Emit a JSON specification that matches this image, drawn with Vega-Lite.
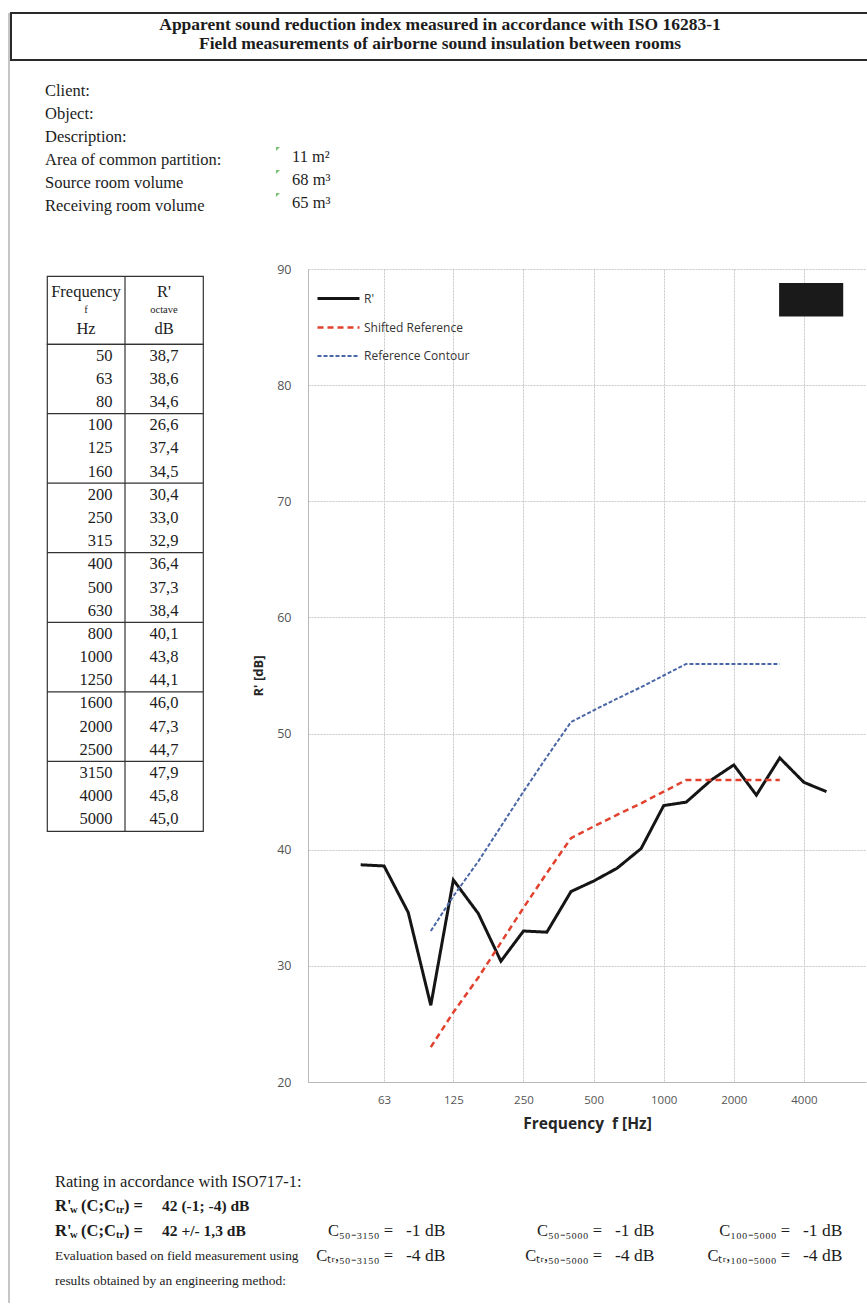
{
  "$schema": "https://vega.github.io/schema/vega-lite/v6.json",
  "padding": {"left": 8, "top": 12, "right": 0, "bottom": 0},
  "background": "#ffffff",
  "config": {
    "view": {"stroke": null},
    "locale": {"number": {"decimal": ",", "thousands": ".", "grouping": [3], "currency": ["", ""]}},
    "text": {"font": "Liberation Serif", "color": "#1c1c1c", "baseline": "middle"}
  },
  "datasets": {
    "header": [
      {"line": 1, "text": "Apparent sound reduction index measured in accordance with ISO 16283-1"},
      {"line": 2, "text": "Field measurements of airborne sound insulation between rooms"}
    ],
    "info": [
      {"label": "Client:", "value": ""},
      {"label": "Object:", "value": ""},
      {"label": "Description:", "value": ""},
      {"label": "Area of common partition:", "value": "11 m²"},
      {"label": "Source room volume", "value": "68 m³"},
      {"label": "Receiving room volume", "value": "65 m³"}
    ],
    "thead": [
      {"col": "f", "line": 1, "text": "Frequency"},
      {"col": "f", "line": 2, "text": "f"},
      {"col": "f", "line": 3, "text": "Hz"},
      {"col": "R", "line": 1, "text": "R'"},
      {"col": "R", "line": 2, "text": "octave"},
      {"col": "R", "line": 3, "text": "dB"}
    ],
    "bands": [
      {"f": 50, "R": 38.7},
      {"f": 63, "R": 38.6},
      {"f": 80, "R": 34.6},
      {"f": 100, "R": 26.6, "shifted": 23, "contour": 33},
      {"f": 125, "R": 37.4, "shifted": 26, "contour": 36},
      {"f": 160, "R": 34.5, "shifted": 29, "contour": 39},
      {"f": 200, "R": 30.4, "shifted": 32, "contour": 42},
      {"f": 250, "R": 33.0, "shifted": 35, "contour": 45},
      {"f": 315, "R": 32.9, "shifted": 38, "contour": 48},
      {"f": 400, "R": 36.4, "shifted": 41, "contour": 51},
      {"f": 500, "R": 37.3, "shifted": 42, "contour": 52},
      {"f": 630, "R": 38.4, "shifted": 43, "contour": 53},
      {"f": 800, "R": 40.1, "shifted": 44, "contour": 54},
      {"f": 1000, "R": 43.8, "shifted": 45, "contour": 55},
      {"f": 1250, "R": 44.1, "shifted": 46, "contour": 56},
      {"f": 1600, "R": 46.0, "shifted": 46, "contour": 56},
      {"f": 2000, "R": 47.3, "shifted": 46, "contour": 56},
      {"f": 2500, "R": 44.7, "shifted": 46, "contour": 56},
      {"f": 3150, "R": 47.9, "shifted": 46, "contour": 56},
      {"f": 4000, "R": 45.8},
      {"f": 5000, "R": 45.0}
    ],
    "redaction": [
      {"f1": 3130, "f2": 5900, "dB1": 85.9, "dB2": 88.8}
    ],
    "ratingText": [
      {"line": 1, "text": "Rating in accordance with ISO717-1:"},
      {"line": 4, "text": "Evaluation based on field measurement using"},
      {"line": 5, "text": "results obtained by an engineering method:"}
    ],
    "rw": [
      {"line": 2, "value": "42 (-1; -4) dB"},
      {"line": 3, "value": "42 +/- 1,3 dB"}
    ],
    "cterms": [
      {"range": "50-3150", "line": 3, "label": "C₅₀₋₃₁₅₀ =", "value": "-1 dB"},
      {"range": "50-3150", "line": 4, "label": "Cₜᵣ,₅₀₋₃₁₅₀ =", "value": "-4 dB"},
      {"range": "50-5000", "line": 3, "label": "C₅₀₋₅₀₀₀ =", "value": "-1 dB"},
      {"range": "50-5000", "line": 4, "label": "Cₜᵣ,₅₀₋₅₀₀₀ =", "value": "-4 dB"},
      {"range": "100-5000", "line": 3, "label": "C₁₀₀₋₅₀₀₀ =", "value": "-1 dB"},
      {"range": "100-5000", "line": 4, "label": "Cₜᵣ,₁₀₀₋₅₀₀₀ =", "value": "-4 dB"}
    ]
  },
  "spacing": 0,
  "hconcat": [
    {
      "width": 1, "height": 1290,
      "data": {"values": [{}]},
      "mark": {"type": "rule", "color": "#8c8c8c", "strokeWidth": 1},
      "encoding": {"x": {"datum": 0, "type": "quantitative", "scale": {"domain": [0, 1]}, "axis": null}}
    },
    {
      "spacing": 0,
      "vconcat": [
        {
          "width": 858, "height": 47,
          "view": {"stroke": "#2a2a2a", "strokeWidth": 2},
          "data": {"name": "header"},
          "mark": {"type": "text", "fontWeight": "bold", "fontSize": 17.5},
          "encoding": {
            "y": {"field": "line", "type": "ordinal", "scale": {"type": "point", "padding": 0.737, "align": 0.4286}, "axis": null},
            "text": {"field": "text"}
          }
        },
        {
          "spacing": 0, "bounds": "flush",
          "hconcat": [
            {"width": 34, "height": 161, "data": {"values": []}, "mark": {"type": "point", "opacity": 0}},
            {
              "width": 247, "height": 161,
              "data": {"name": "info"},
              "mark": {"type": "text", "align": "left", "fontSize": 16.5},
              "encoding": {
                "x": {"datum": 0, "type": "quantitative", "scale": {"domain": [0, 1]}, "axis": null},
                "y": {"field": "label", "type": "nominal", "sort": null, "scale": {"type": "point", "padding": 1, "align": 0.652}, "axis": null},
                "text": {"field": "label"}
              }
            },
            {
              "width": 200, "height": 161,
              "data": {"name": "info"},
              "layer": [
                {
                  "mark": {"type": "text", "align": "left", "fontSize": 16.5, "dy": -3},
                  "encoding": {
                    "x": {"datum": 0, "type": "quantitative", "scale": {"domain": [0, 1]}, "axis": null},
                    "y": {"field": "label", "type": "nominal", "sort": null, "scale": {"type": "point", "padding": 1, "align": 0.652}, "axis": null},
                    "text": {"field": "value"}
                  }
                },
                {
                  "transform": [{"filter": "datum.value != ''"}],
                  "mark": {"type": "point", "shape": "M-1,-1L1,-1L-1,1Z", "filled": true, "size": 16, "color": "#3fa63a", "xOffset": -14, "yOffset": -11},
                  "encoding": {
                    "x": {"datum": 0, "type": "quantitative"},
                    "y": {"field": "label", "type": "nominal", "sort": null}
                  }
                }
              ]
            }
          ]
        },
        {"width": 1, "height": 41, "data": {"values": []}, "mark": {"type": "point", "opacity": 0}},
        {
          "spacing": 0,
          "resolve": {"scale": {"color": "independent", "strokeDash": "independent", "strokeWidth": "independent"}},
          "hconcat": [
            {"width": 34, "height": 1, "data": {"values": []}, "mark": {"type": "point", "opacity": 0}},
            {
              "spacing": 0, "bounds": "flush",
              "vconcat": [
                {"width": 156, "height": 7, "data": {"values": []}, "mark": {"type": "point", "opacity": 0}},
                {
                  "width": 156, "height": 68,
                  "view": {"stroke": "#333333", "strokeWidth": 1.2},
                  "layer": [
                    {
                      "data": {"name": "thead"},
                      "transform": [{"filter": "datum.line != 2"}],
                      "mark": {"type": "text", "fontSize": 16.5},
                      "encoding": {
                        "x": {"field": "col", "type": "nominal", "scale": {"type": "band", "domain": ["f", "R"], "paddingInner": 0, "paddingOuter": 0}, "bandPosition": 0.5, "axis": null},
                        "y": {"field": "line", "type": "ordinal", "scale": {"type": "point", "domain": [1, 2, 3], "padding": 0.838, "align": 0.516}, "axis": null},
                        "text": {"field": "text"}
                      }
                    },
                    {
                      "data": {"name": "thead"},
                      "transform": [{"filter": "datum.line == 2"}],
                      "mark": {"type": "text", "fontSize": 10.5},
                      "encoding": {
                        "x": {"field": "col", "type": "nominal", "bandPosition": 0.5},
                        "y": {"field": "line", "type": "ordinal"},
                        "text": {"field": "text"}
                      }
                    },
                    {
                      "data": {"values": [{}]},
                      "mark": {"type": "rule", "color": "#333333", "strokeWidth": 1.2},
                      "encoding": {"x": {"datum": "R", "type": "nominal", "bandPosition": 0}}
                    }
                  ]
                },
                {
                  "width": 156, "height": 487,
                  "view": {"stroke": "#333333", "strokeWidth": 1.2},
                  "data": {"name": "bands"},
                  "layer": [
                    {
                      "mark": {"type": "text", "fontSize": 16.5, "align": "right"},
                      "encoding": {
                        "x": {"datum": "f", "type": "nominal", "scale": {"type": "band", "domain": ["f", "R"], "paddingInner": 0, "paddingOuter": 0}, "bandPosition": 0.84, "axis": null},
                        "y": {"field": "f", "type": "ordinal", "scale": {"type": "band", "paddingInner": 0, "paddingOuter": 0}, "bandPosition": 0.5, "axis": null},
                        "text": {"field": "f", "type": "quantitative", "format": "d"}
                      }
                    },
                    {
                      "mark": {"type": "text", "fontSize": 16.5},
                      "encoding": {
                        "x": {"datum": "R", "type": "nominal", "bandPosition": 0.5},
                        "y": {"field": "f", "type": "ordinal", "bandPosition": 0.5},
                        "text": {"field": "R", "type": "quantitative", "format": ".1f"}
                      }
                    },
                    {
                      "transform": [{"filter": {"field": "f", "oneOf": [100, 200, 400, 800, 1600, 3150]}}],
                      "mark": {"type": "rule", "color": "#333333", "strokeWidth": 1.2},
                      "encoding": {"y": {"field": "f", "type": "ordinal", "bandPosition": 0}}
                    },
                    {
                      "data": {"values": [{}]},
                      "mark": {"type": "rule", "color": "#333333", "strokeWidth": 1.2},
                      "encoding": {"x": {"datum": "R", "type": "nominal", "bandPosition": 0}}
                    }
                  ]
                }
              ]
            },
            {"width": 47, "height": 1, "data": {"values": []}, "mark": {"type": "point", "opacity": 0}},
            {
              "width": 558, "height": 813,
              "layer": [
                {
                  "data": {"name": "bands"},
                  "transform": [
                    {"fold": ["contour", "shifted", "R"], "as": ["series", "dB"]},
                    {"filter": "isValid(datum.dB)"}
                  ],
                  "mark": {"type": "line", "strokeCap": "butt", "strokeJoin": "miter"},
                  "encoding": {
                    "x": {
                      "field": "f", "type": "quantitative",
                      "scale": {"type": "log", "domain": [29.7, 7390], "nice": false},
                      "axis": {
                        "values": [63, 125, 250, 500, 1000, 2000, 4000], "format": "d",
                        "title": "Frequency\u00a0 f [Hz]",
                        "grid": true, "gridColor": "#c8c8c8", "gridDash": [2, 1], "gridWidth": 1,
                        "ticks": false, "domainColor": "#b8b8b8",
                        "labelFont": "Open Sans", "labelFontSize": 11.5, "labelColor": "#555555", "labelPadding": 12,
                        "titleFont": "Open Sans", "titleFontSize": 15.5, "titleFontWeight": "bold", "titleColor": "#262626", "titlePadding": 11
                      }
                    },
                    "y": {
                      "field": "dB", "type": "quantitative",
                      "scale": {"domain": [20, 90], "nice": false},
                      "axis": {
                        "values": [20, 30, 40, 50, 60, 70, 80, 90], "format": "d",
                        "title": "R' [dB]",
                        "grid": true, "gridColor": "#c8c8c8", "gridDash": [2, 1], "gridWidth": 1,
                        "ticks": false, "domainColor": "#b8b8b8",
                        "labelFont": "Open Sans", "labelFontSize": 12.5, "labelColor": "#555555", "labelPadding": 17,
                        "titleFont": "Open Sans", "titleFontSize": 13, "titleFontWeight": "bold", "titleColor": "#262626", "titlePadding": 11
                      }
                    },
                    "color": {
                      "field": "series", "type": "nominal",
                      "scale": {"domain": ["R", "shifted", "contour"], "range": ["#151515", "#e2412e", "#4a66a6"]},
                      "legend": {
                        "orient": "none", "legendX": 8, "legendY": 7, "title": null,
                        "symbolType": "stroke", "symbolSize": 1764, "labelOffset": 3,
                        "labelFont": "Open Sans", "labelFontSize": 12, "labelColor": "#333333", "rowPadding": -18,
                        "labelExpr": "datum.label == 'R' ? \"R'\" : datum.label == 'shifted' ? 'Shifted Reference' : 'Reference Contour'"
                      }
                    },
                    "strokeDash": {
                      "field": "series", "type": "nominal",
                      "scale": {"domain": ["R", "shifted", "contour"], "range": [[1, 0], [6, 4], [4, 2]]},
                      "legend": {
                        "orient": "none", "legendX": 8, "legendY": 7, "title": null,
                        "symbolType": "stroke", "symbolSize": 1764, "labelOffset": 3,
                        "labelFont": "Open Sans", "labelFontSize": 12, "labelColor": "#333333", "rowPadding": -18,
                        "labelExpr": "datum.label == 'R' ? \"R'\" : datum.label == 'shifted' ? 'Shifted Reference' : 'Reference Contour'"
                      }
                    },
                    "strokeWidth": {
                      "field": "series", "type": "nominal",
                      "scale": {"domain": ["R", "shifted", "contour"], "range": [3, 2, 2]},
                      "legend": {
                        "orient": "none", "legendX": 8, "legendY": 7, "title": null,
                        "symbolType": "stroke", "symbolSize": 1764, "labelOffset": 3,
                        "labelFont": "Open Sans", "labelFontSize": 12, "labelColor": "#333333", "rowPadding": -18,
                        "labelExpr": "datum.label == 'R' ? \"R'\" : datum.label == 'shifted' ? 'Shifted Reference' : 'Reference Contour'"
                      }
                    }
                  }
                },
                {
                  "data": {"name": "redaction"},
                  "mark": {"type": "rect", "color": "#1a1a1a"},
                  "encoding": {
                    "x": {"field": "f1", "type": "quantitative"},
                    "x2": {"field": "f2"},
                    "y": {"field": "dB1", "type": "quantitative"},
                    "y2": {"field": "dB2"}
                  }
                }
              ]
            }
          ]
        },
        {
          "spacing": 0, "bounds": "flush",
          "hconcat": [
            {"width": 44, "height": 148.5, "data": {"values": []}, "mark": {"type": "point", "opacity": 0}},
            {
              "width": 247, "height": 148.5,
              "layer": [
                {
                  "data": {"name": "ratingText"},
                  "transform": [{"filter": "datum.line == 1"}],
                  "mark": {"type": "text", "align": "left", "fontSize": 16.5},
                  "encoding": {
                    "x": {"datum": 0, "type": "quantitative", "scale": {"domain": [0, 1]}, "axis": null},
                    "y": {"field": "line", "type": "ordinal", "scale": {"type": "point", "domain": [1, 2, 3, 4, 5], "padding": 1, "align": 1}, "axis": null},
                    "text": {"field": "text"}
                  }
                },
                {
                  "data": {"name": "ratingText"},
                  "transform": [{"filter": "datum.line != 1"}],
                  "mark": {"type": "text", "align": "left", "fontSize": 13.4},
                  "encoding": {
                    "x": {"datum": 0, "type": "quantitative"},
                    "y": {"field": "line", "type": "ordinal"},
                    "text": {"field": "text"}
                  }
                },
                {
                  "data": {"name": "rw"},
                  "mark": {"type": "text", "align": "left", "fontSize": 16.5, "fontWeight": "bold", "text": "R'"},
                  "encoding": {"x": {"datum": 0, "type": "quantitative"}, "y": {"field": "line", "type": "ordinal"}}
                },
                {
                  "data": {"name": "rw"},
                  "mark": {"type": "text", "align": "left", "fontSize": 10.5, "fontWeight": "bold", "text": "w", "dx": 15, "dy": 4},
                  "encoding": {"x": {"datum": 0, "type": "quantitative"}, "y": {"field": "line", "type": "ordinal"}}
                },
                {
                  "data": {"name": "rw"},
                  "mark": {"type": "text", "align": "left", "fontSize": 16.5, "fontWeight": "bold", "text": "(C;C", "dx": 26},
                  "encoding": {"x": {"datum": 0, "type": "quantitative"}, "y": {"field": "line", "type": "ordinal"}}
                },
                {
                  "data": {"name": "rw"},
                  "mark": {"type": "text", "align": "left", "fontSize": 10.5, "fontWeight": "bold", "text": "tr", "dx": 61, "dy": 4},
                  "encoding": {"x": {"datum": 0, "type": "quantitative"}, "y": {"field": "line", "type": "ordinal"}}
                },
                {
                  "data": {"name": "rw"},
                  "mark": {"type": "text", "align": "left", "fontSize": 16.5, "fontWeight": "bold", "text": ") =", "dx": 69},
                  "encoding": {"x": {"datum": 0, "type": "quantitative"}, "y": {"field": "line", "type": "ordinal"}}
                },
                {
                  "data": {"name": "rw"},
                  "mark": {"type": "text", "align": "left", "fontSize": 15.5, "fontWeight": "bold", "dx": 107},
                  "encoding": {"x": {"datum": 0, "type": "quantitative"}, "y": {"field": "line", "type": "ordinal"}, "text": {"field": "value"}}
                }
              ]
            },
            {
              "width": 182, "height": 148.5,
              "data": {"name": "cterms"},
              "transform": [{"filter": "datum.range == '50-3150'"}],
              "layer": [
                {
                  "mark": {"type": "text", "align": "right", "fontSize": 16.5},
                  "encoding": {
                    "y": {"field": "line", "type": "ordinal", "scale": {"type": "point", "domain": [1, 2, 3, 4, 5], "padding": 1, "align": 1}, "axis": null},
                    "text": {"field": "label"}
                  }
                },
                {
                  "mark": {"type": "text", "align": "left", "fontSize": 17.5, "dx": 13},
                  "encoding": {"y": {"field": "line", "type": "ordinal"}, "text": {"field": "value"}}
                }
              ]
            },
            {
              "width": 236, "height": 148.5,
              "data": {"name": "cterms"},
              "transform": [{"filter": "datum.range == '50-5000'"}],
              "layer": [
                {
                  "mark": {"type": "text", "align": "right", "fontSize": 16.5},
                  "encoding": {
                    "y": {"field": "line", "type": "ordinal", "scale": {"type": "point", "domain": [1, 2, 3, 4, 5], "padding": 1, "align": 1}, "axis": null},
                    "text": {"field": "label"}
                  }
                },
                {
                  "mark": {"type": "text", "align": "left", "fontSize": 17.5, "dx": 13},
                  "encoding": {"y": {"field": "line", "type": "ordinal"}, "text": {"field": "value"}}
                }
              ]
            },
            {
              "width": 140, "height": 148.5,
              "data": {"name": "cterms"},
              "transform": [{"filter": "datum.range == '100-5000'"}],
              "layer": [
                {
                  "mark": {"type": "text", "align": "right", "fontSize": 16.5},
                  "encoding": {
                    "y": {"field": "line", "type": "ordinal", "scale": {"type": "point", "domain": [1, 2, 3, 4, 5], "padding": 1, "align": 1}, "axis": null},
                    "text": {"field": "label"}
                  }
                },
                {
                  "mark": {"type": "text", "align": "left", "fontSize": 17.5, "dx": 13},
                  "encoding": {"y": {"field": "line", "type": "ordinal"}, "text": {"field": "value"}}
                }
              ]
            }
          ]
        },
        {"width": 1, "height": 20, "data": {"values": []}, "mark": {"type": "point", "opacity": 0}},
        {
          "width": 858, "height": 2,
          "data": {"values": [{}]},
          "mark": {"type": "rule", "color": "#2a2a2a", "strokeWidth": 2},
          "encoding": {"y": {"datum": 0.5, "type": "quantitative", "scale": {"domain": [0, 1]}, "axis": null}}
        }
      ]
    }
  ]
}
